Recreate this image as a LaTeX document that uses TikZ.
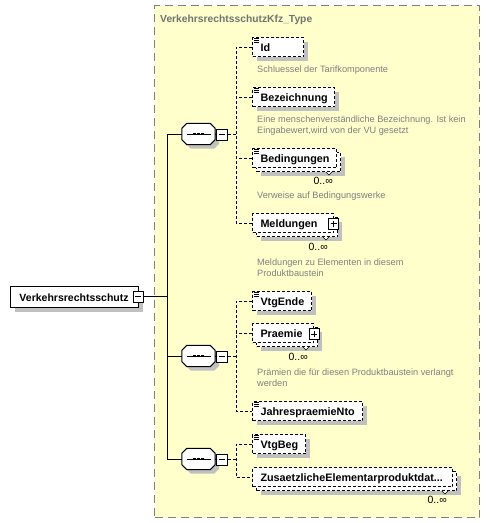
\documentclass[tikz,border=0pt]{standalone}
\usepackage{fontspec}
\setmainfont{Liberation Sans}
\usetikzlibrary{shadows}
\definecolor{ybg}{RGB}{255,255,204}
\definecolor{ybord}{RGB}{128,128,128}
\definecolor{desc}{RGB}{128,128,128}
\definecolor{titlec}{RGB}{115,115,115}
\definecolor{shad}{RGB}{192,192,192}
\tikzset{
  shd/.style={drop shadow={shadow xshift=4pt,shadow yshift=-4pt,fill=shad,opacity=1}},
  boxbase/.style={draw,line width=1pt,dash pattern=on 3pt off 2pt,fill=white,
    minimum height=19pt,inner sep=0pt,anchor=north west,align=left,
    font=\bfseries\fontsize{10.8}{12}\selectfont,text height=10pt,text depth=1pt},
  elembox/.style={boxbase,shd},
  elemfront/.style={boxbase},
  elemback/.style={boxbase,shd},
  rootbox/.style={draw,line width=1pt,fill=white,shd,minimum height=21pt,inner sep=0pt,
    anchor=north west,align=left,font=\bfseries\fontsize{10.5}{12}\selectfont,
    text height=10pt,text depth=1pt},
  pmbase/.style={draw,line width=1pt,fill=white,minimum width=10pt,minimum height=11pt,inner sep=0pt},
  minusbox/.style={pmbase,path picture={
    \draw[black,line width=1pt] ([xshift=-3pt]path picture bounding box.center) -- ([xshift=3pt]path picture bounding box.center);}},
  plusbox/.style={pmbase,path picture={
    \draw[black,line width=1pt] ([xshift=-3pt]path picture bounding box.center) -- ([xshift=3pt]path picture bounding box.center);
    \draw[black,line width=1pt] ([yshift=-3pt]path picture bounding box.center) -- ([yshift=3pt]path picture bounding box.center);}},
  seqbox/.style={rectangle,draw=none,minimum width=33pt,minimum height=21pt,inner sep=0pt},
  octa/.style={line width=1pt,draw=black,fill=white},
  octashadow/.style={fill=shad,draw=none},
  conn/.style={line width=1pt},
  dconn/.style={line width=1pt,dash pattern=on 3pt off 2pt},
  desctext/.style={anchor=north west,inner sep=0pt,align=left,text=desc,
    font=\fontsize{9.2}{11}\selectfont},
  occ/.style={anchor=base east,inner sep=0pt,font=\fontsize{10.5}{12}\selectfont},
  titletext/.style={anchor=base west,inner sep=0pt,text=titlec,font=\bfseries\fontsize{10.3}{12}\selectfont},
  lines/.style={line width=0.7pt},
  notch/.style={line width=0.6pt,fill=white}
}
\newcommand{\simpleicon}[1]{%
  \draw[lines] ([shift={(2pt,-1.5pt)}]#1.north west) -- ++(5pt,0pt);
  \draw[lines] ([shift={(2pt,-3.5pt)}]#1.north west) -- ++(5pt,0pt);
  \draw[lines] ([shift={(2pt,-5.5pt)}]#1.north west) -- ++(5pt,0pt);}
\newcommand{\occnotch}[1]{%
  \draw[notch] ([shift={(-15pt,0pt)}]#1.south east) -- ++(3pt,-3pt) -- ++(3pt,3pt);}
\newcommand{\octapath}[2]{% #1 node, #2 shift
  ([shift={(5pt+#2,0pt-#2)}]#1.north west) -- ([shift={(-5pt+#2,0pt-#2)}]#1.north east)
  -- ([shift={(0pt+#2,-5pt-#2)}]#1.north east) -- ([shift={(0pt+#2,5pt-#2)}]#1.south east)
  -- ([shift={(-5pt+#2,0pt-#2)}]#1.south east) -- ([shift={(5pt+#2,0pt-#2)}]#1.south west)
  -- ([shift={(0pt+#2,5pt-#2)}]#1.south west) -- ([shift={(0pt+#2,-5pt-#2)}]#1.north west) -- cycle}
\newcommand{\seqshape}[1]{%
  \fill[octashadow] \octapath{#1}{4pt};
  \filldraw[octa] \octapath{#1}{0pt};
  \draw[line width=1pt] ([xshift=-12pt]#1.center) -- ([xshift=12pt]#1.center);
  \foreach \dx in {-4,0,4}
    \fill[black] ([xshift=\dx pt]#1.center) +(-1.4pt,-1.4pt) rectangle +(1.4pt,1.4pt);}
\begin{document}
\begin{tikzpicture}[x=1pt,y=-1pt]
\useasboundingbox (0,0) rectangle (490,523);
% type frame
\node[draw=ybord,fill=ybg,line width=1pt,dash pattern=on 8pt off 5pt,anchor=north west,
  minimum width=325pt,minimum height=512pt,inner sep=0pt] (typebox) at (154,5) {};
\node[titletext] (title) at (160,22) {VerkehrsrechtsschutzKfz\_Type};

% root
\node[rootbox,text width=128pt] (root) at (10,286) {\hspace*{9pt}Verkehrsrechtsschutz};
\node[minusbox] (rootpm) at (138.3,296.5) {};

% sequences
\node[seqbox] (seq1) at (198.5,134) {};
\node[seqbox] (seq2) at (198.5,356) {};
\node[seqbox] (seq3) at (198.5,459) {};
\seqshape{seq1}
\seqshape{seq2}
\seqshape{seq3}
\node[minusbox,minimum width=11pt] (pm1) at (221.8,134.5) {};
\node[minusbox,minimum width=11pt] (pm2) at (221.8,356.5) {};
\node[minusbox,minimum width=11pt] (pm3) at (221.8,459.5) {};
\coordinate (trunk) at (167,0);
\coordinate (dv) at (236,0);

\draw[conn] (rootpm.east) -- (rootpm.east -| trunk);
\draw[conn] (seq1.west) -- (seq1.west -| trunk) -- (seq3.west -| trunk) -- (seq3.west);
\draw[conn] (seq2.west) -- (seq2.west -| trunk);
\draw[conn] (seq1.east) -- (pm1.west);
\draw[conn] (seq2.east) -- (pm2.west);
\draw[conn] (seq3.east) -- (pm3.west);

% --- sequence 1 children
\node[elembox,text width=51pt] (id) at (252,37) {\hspace*{8pt}Id};
\simpleicon{id}
\node[desctext] (iddesc) at (257,65.4) {Schluessel der Tarifkomponente};

\node[elembox,text width=82pt] (bez) at (252,87) {\hspace*{8pt}Bezeichnung};
\simpleicon{bez}
\node[desctext] (bezdesc) at (257,115.4) {Eine menschenverständliche Bezeichnung. Ist kein\\Eingabewert,wird von der VU gesetzt};

\node[elemback,minimum width=84pt] (bedb) at (256,152) {};
\node[elemfront,text width=84pt] (bed) at (252,148) {\hspace*{8pt}Bedingungen};
\simpleicon{bed}
\occnotch{bedb}
\node[occ] (bedocc) at (333,184.5) {0..∞};
\node[desctext] (beddesc) at (257,191.6) {Verweise auf Bedingungswerke};

\node[elemback,minimum width=81pt] (melb) at (256,217) {};
\node[elemfront,text width=81pt] (mel) at (252,213) {\hspace*{8pt}Meldungen};
\node[plusbox] (melpm) at (333.5,223.5) {};
\occnotch{melb}
\node[occ] (melocc) at (328,250.5) {0..∞};
\node[desctext] (meldesc) at (257,258.4) {Meldungen zu Elementen in diesem\\Produktbaustein};

\draw[dconn] (pm1.east) -- (pm1.east -| dv);
\draw[dconn] (id.west) -- (id.west -| dv) -- (mel.west -| dv) -- (mel.west);
\draw[dconn] (bez.west) -- (bez.west -| dv);
\draw[dconn] (bed.west) -- (bed.west -| dv);

% --- sequence 2 children
\node[elembox,text width=59pt] (vtgende) at (252,291) {\hspace*{8pt}VtgEnde};
\simpleicon{vtgende}

\node[elemback,minimum width=61pt] (praeb) at (256,327) {};
\node[elemfront,text width=61pt] (prae) at (252,323) {\hspace*{8pt}Praemie};
\node[plusbox] (praepm) at (314,334) {};
\occnotch{praeb}
\node[occ] (praeocc) at (308,360.5) {0..∞};
\node[desctext] (praedesc) at (257,368.4) {Prämien die für diesen Produktbaustein verlangt\\werden};

\node[elembox,text width=110pt] (jahr) at (252,401) {\hspace*{8pt}JahrespraemieNto};
\simpleicon{jahr}

\draw[dconn] (pm2.east) -- (pm2.east -| dv);
\draw[dconn] (vtgende.west) -- (vtgende.west -| dv) -- (jahr.west -| dv) -- (jahr.west);
\draw[dconn] (prae.west) -- (prae.west -| dv);

% --- sequence 3 children
\node[elembox,text width=53pt] (vtgbeg) at (252,434) {\hspace*{8pt}VtgBeg};
\simpleicon{vtgbeg}

\node[elemback,minimum width=200pt] (zusb) at (256,471) {};
\node[elemfront,text width=200pt] (zus) at (252,467) {\hspace*{8pt}ZusaetzlicheElementarproduktdat...};
\occnotch{zusb}
\node[occ] (zusocc) at (447,503) {0..∞};

\draw[dconn] (pm3.east) -- (pm3.east -| dv);
\draw[dconn] (vtgbeg.west) -- (vtgbeg.west -| dv) -- (zus.west -| dv) -- (zus.west);
\end{tikzpicture}
\end{document}
